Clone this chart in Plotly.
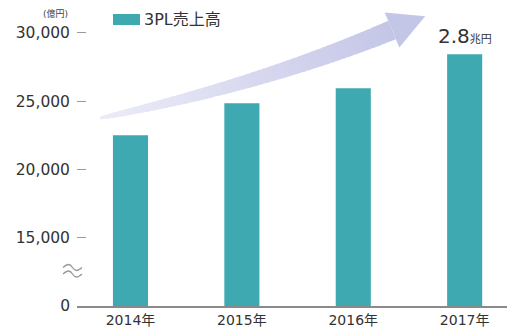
import plotly.graph_objects as go

# ---- data ----
years = ["2014年", "2015年", "2016年", "2017年"]
sales = [22500, 24850, 25950, 28450]          # 億円 (3PL売上高)
series_name = "3PL売上高"
tick_vals = [10000, 15000, 20000, 25000, 30000]  # 10000 position carries the "0" label (broken axis)
tick_text = ["0", "15,000", "20,000", "25,000", "30,000"]
unit_label = "(億円)"
highlight_text = "2.8<span style='font-size:11px'>兆円</span>"

# ---- layout geometry (pixels) ----
W, H = 512, 329
ML, MR, MT, MB = 77, 5, 0, 23
PW, PH = W - ML - MR, H - MT - MB

def P(px, py):
    return ((px - ML) / PW, (H - MB - py) / PH)

TEAL = "#3fa9b1"
FONT = "DejaVu Sans, Noto Sans CJK JP, sans-serif"

fig = go.Figure()
fig.add_trace(go.Bar(
    x=years, y=sales, name=series_name, marker=dict(color=TEAL, line=dict(width=0)),
    width=0.315, showlegend=False, hoverinfo="x+y",
))

shapes = []

# ---- gradient curved arrow (decoration) ----
P0, P1, P2 = (100, 118), (260, 85), (392, 30)
def bez(t):
    a, b, c = (1 - t) ** 2, 2 * (1 - t) * t, t ** 2
    return (a * P0[0] + b * P1[0] + c * P2[0], a * P0[1] + b * P1[1] + c * P2[1])
def nrm(t):
    dx = 2 * (1 - t) * (P1[0] - P0[0]) + 2 * t * (P2[0] - P1[0])
    dy = 2 * (1 - t) * (P1[1] - P0[1]) + 2 * t * (P2[1] - P1[1])
    L = (dx * dx + dy * dy) ** 0.5
    return (-dy / L, dx / L), (dx / L, dy / L)
c0, c1 = (236, 236, 248), (196, 198, 231)
def col(t):
    return "rgb(%d,%d,%d)" % tuple(round(c0[k] + (c1[k] - c0[k]) * t) for k in range(3))
def wid(t):
    return 2.5 + 17.5 * t ** 0.6
N = 48
def path(pts):
    s = ""
    for i, (x, y) in enumerate(pts):
        px, py = P(x, y)
        s += ("M" if i == 0 else "L") + f"{px:.5f},{py:.5f} "
    return s + "Z"
for i in range(N):
    ta = i / N
    tb = min(1.0, (i + 1) / N + 0.006)
    pts = []
    for t in (ta, tb):
        (nx, ny), _ = nrm(t)
        bx, by = bez(t)
        h = wid(t) / 2
        pts.append((bx + nx * h, by + ny * h))
    for t in (tb, ta):
        (nx, ny), _ = nrm(t)
        bx, by = bez(t)
        h = wid(t) / 2
        pts.append((bx - nx * h, by - ny * h))
    shapes.append(dict(type="path", xref="paper", yref="paper", path=path(pts),
                       fillcolor=col((ta + tb) / 2), line=dict(width=0), layer="below"))
(nx, ny), (tx, ty) = nrm(1.0)
bx, by = P2
head = [(bx + nx * 19, by + ny * 19), (bx + tx * 36, by + ty * 36), (bx - nx * 19, by - ny * 19)]
shapes.append(dict(type="path", xref="paper", yref="paper", path=path(head),
                   fillcolor=col(1.0), line=dict(width=0), layer="below"))

# ---- axis break symbol ----
for yy in (267.5, 274):
    a = P(63, yy); b = P(67.5, yy - 4); c = P(70, yy - 4); d = P(72.5, yy)
    e = P(77.5, yy + 4); f = P(82, yy)
    shapes.append(dict(type="path", xref="paper", yref="paper",
                       path=f"M{a[0]},{a[1]} C{b[0]},{b[1]} {c[0]},{c[1]} {d[0]},{d[1]} S{e[0]},{e[1]} {f[0]},{f[1]}",
                       line=dict(color="#9a9a9a", width=1.3)))

# ---- manual legend swatch ----
l0 = P(113, 14); l1 = P(140, 25)
shapes.append(dict(type="rect", xref="paper", yref="paper", x0=l0[0], y0=l0[1], x1=l1[0], y1=l1[1],
                   fillcolor=TEAL, line=dict(width=0)))

annotations = []
lt = P(142, 19.5)
annotations.append(dict(xref="paper", yref="paper", x=lt[0], y=lt[1], xanchor="left", yanchor="middle",
                        text=series_name, showarrow=False, font=dict(size=16, color="#333", family=FONT)))
ut = P(70, 14)
annotations.append(dict(xref="paper", yref="paper", x=ut[0], y=ut[1], xanchor="right", yanchor="middle",
                        text=unit_label, showarrow=False, font=dict(size=9, color="#444", family=FONT)))
annotations.append(dict(xref="x", yref="y", x=years[-1], y=sales[-1], xanchor="center", yanchor="bottom",
                        yshift=4, text=highlight_text, showarrow=False,
                        font=dict(size=20, color="#333", family=FONT)))

fig.update_layout(
    width=W, height=H, margin=dict(l=ML, r=MR, t=MT, b=MB),
    paper_bgcolor="white", plot_bgcolor="white",
    font=dict(family=FONT, color="#333"),
    shapes=shapes, annotations=annotations, bargap=0.6,
    xaxis=dict(range=[-0.48, 3.38], showgrid=False, zeroline=False, showline=True,
               linecolor="#8a8a8a", linewidth=1.5, ticks="", tickfont=dict(size=14, color="#333"),
               fixedrange=True),
    yaxis=dict(range=[10000, 32416], tickvals=tick_vals, ticktext=tick_text, showgrid=False,
               zeroline=False, showline=False, ticks="inside", ticklen=9, tickcolor="#9a9a9a",
               tickwidth=1.3, tickfont=dict(size=15.5, color="#333"), ticklabelstandoff=6,
               fixedrange=True),
)

fig.write_html("out.html", config={"displayModeBar": False},
               post_script="document.body.style.margin='0';document.body.style.overflow='hidden';")
